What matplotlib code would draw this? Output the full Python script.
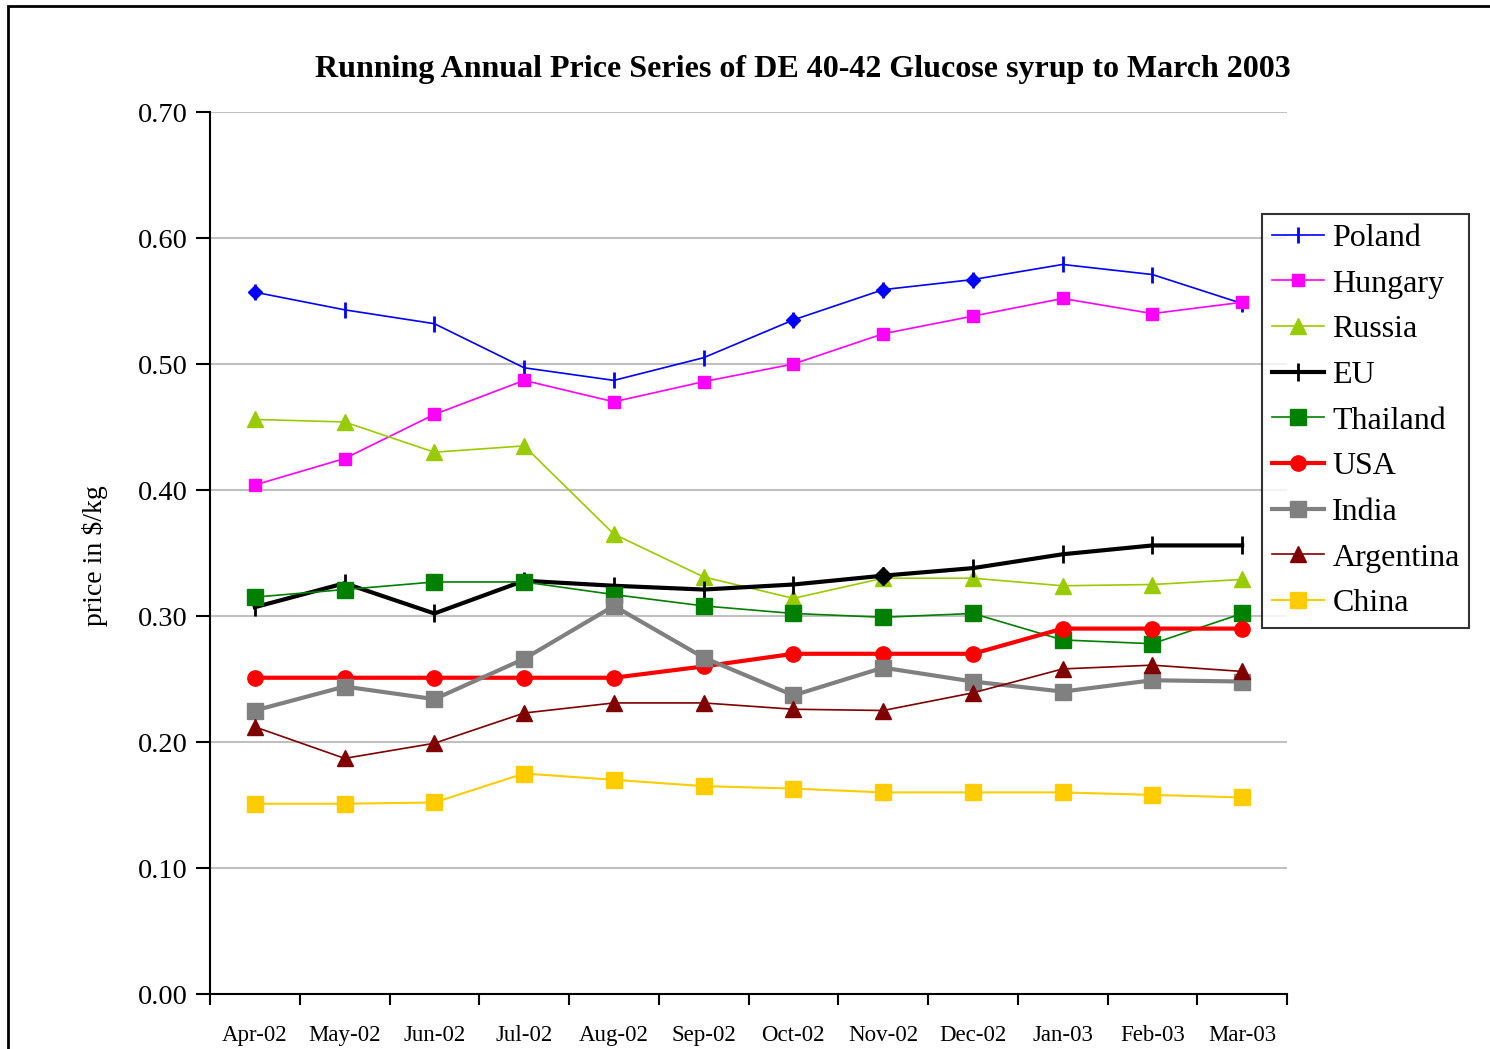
import matplotlib.pyplot as plt
from matplotlib.patches import Rectangle
from matplotlib.ticker import FixedLocator

plt.rcParams['font.family'] = ['Liberation Serif', 'DejaVu Serif']

# Data
months = ['Apr-02', 'May-02', 'Jun-02', 'Jul-02', 'Aug-02', 'Sep-02',
          'Oct-02', 'Nov-02', 'Dec-02', 'Jan-03', 'Feb-03', 'Mar-03']
poland = [0.557, 0.543, 0.532, 0.497, 0.487, 0.505, 0.535, 0.559, 0.567, 0.579, 0.571, 0.548]
hungary = [0.404, 0.425, 0.460, 0.487, 0.470, 0.486, 0.500, 0.524, 0.538, 0.552, 0.540, 0.549]
russia = [0.456, 0.454, 0.430, 0.435, 0.365, 0.331, 0.314, 0.330, 0.330, 0.324, 0.325, 0.329]
eu = [0.307, 0.326, 0.302, 0.328, 0.324, 0.321, 0.325, 0.332, 0.338, 0.349, 0.356, 0.356]
thailand = [0.315, 0.321, 0.327, 0.327, 0.317, 0.308, 0.302, 0.299, 0.302, 0.281, 0.278, 0.302]
usa = [0.251, 0.251, 0.251, 0.251, 0.251, 0.260, 0.270, 0.270, 0.270, 0.290, 0.290, 0.290]
india = [0.225, 0.244, 0.234, 0.266, 0.308, 0.267, 0.237, 0.259, 0.248, 0.240, 0.249, 0.248]
argentina = [0.212, 0.187, 0.199, 0.223, 0.231, 0.231, 0.226, 0.225, 0.239, 0.258, 0.261, 0.256]
china = [0.151, 0.151, 0.152, 0.175, 0.170, 0.165, 0.163, 0.160, 0.160, 0.160, 0.158, 0.156]

fig = plt.figure(figsize=(14.9, 10.49), dpi=100)
ax = fig.add_axes([210 / 1490, 1 - 994 / 1049, 1077 / 1490, 882 / 1049])

x = list(range(len(months)))

# (label, values, color, linewidth, marker, markersize)
series = [
    ('Poland', poland, '#0000FF', 1.2, '|', 11),
    ('Hungary', hungary, '#FF00FF', 1.2, 's', 9),
    ('Russia', russia, '#99CC00', 1.2, '^', 11),
    ('EU', eu, '#000000', 3.0, '|', 13),
    ('Thailand', thailand, '#008000', 1.2, 's', 11),
    ('USA', usa, '#FF0000', 3.0, 'o', 11),
    ('India', india, '#808080', 3.0, 's', 12),
    ('Argentina', argentina, '#800000', 1.2, '^', 11),
    ('China', china, '#FFCC00', 1.5, 's', 12),
]

for label, vals, color, lw, mk, ms in series:
    ax.plot(x, vals, color=color, lw=lw, marker=mk, ms=ms, mew=2 if mk == '|' else 1,
            mec=color, mfc=color, label=label)

# odd diamond markers at a few points, as in the original
ax.plot(x, poland, ls='none', marker='D', ms=7, color='#0000FF', markevery=[0, 6, 7, 8])
ax.plot(x, eu, ls='none', marker='D', ms=9, color='#000000', markevery=[7])

ax.set_xlim(-0.5, len(months) - 0.5)
ax.set_ylim(0, 0.7)
ax.set_yticks([i / 10 for i in range(8)])
ax.set_yticklabels(['%.2f' % (i / 10) for i in range(8)])
ax.set_xticks(x)
ax.set_xticklabels(months)
ax.xaxis.set_minor_locator(FixedLocator([i - 0.5 for i in range(len(months) + 1)]))
ax.tick_params(axis='x', which='major', length=0, pad=22, labelsize=16.5)
ax.tick_params(axis='x', which='minor', length=8, width=1.5, direction='out')
ax.tick_params(axis='y', length=10, width=1.5, direction='out', labelsize=20.5, pad=6)

ax.grid(axis='y', color='#C0C0C0', lw=1.5)
ax.set_axisbelow(True)
for s in ['top', 'right']:
    ax.spines[s].set_visible(False)
for s in ['left', 'bottom']:
    ax.spines[s].set_linewidth(1.5)

ax.set_ylabel('price in $/kg', fontsize=20)
ax.yaxis.set_label_coords(-0.095, 0.497)

fig.text(803 / 1490, 1 - 69 / 1049, 'Running Annual Price Series of DE 40-42 Glucose syrup to March 2003',
         ha='center', va='center', fontsize=23, fontweight='bold')

leg = ax.legend(loc='upper left', bbox_to_anchor=(1262 / 1490, 1 - 214 / 1049),
                bbox_transform=fig.transFigure, borderaxespad=0, fontsize=23,
                frameon=True, fancybox=False, edgecolor='black', labelspacing=0.51,
                handlelength=1.65, handletextpad=0.25, borderpad=0.3)
leg.get_frame().set_linewidth(1.5)

# outer chart border
fig.add_artist(Rectangle((8 / 1490, -0.1), 2, 1.1 - 6 / 1049, transform=fig.transFigure,
                         fill=False, edgecolor='black', lw=2))

fig.savefig('out.png', dpi=100)
